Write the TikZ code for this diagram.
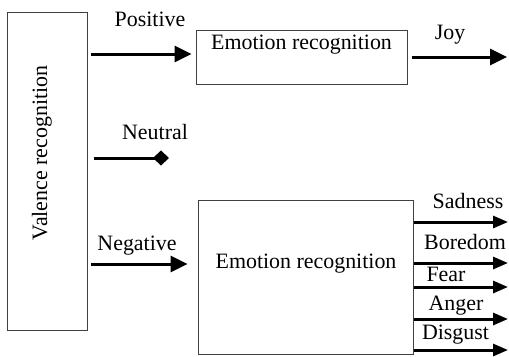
\documentclass[tikz,border=0pt]{standalone}
\usepackage{fontspec}
\setmainfont{Liberation Serif}
\usetikzlibrary{arrows.meta}

\tikzset{
  blk/.style={draw=black!75, line width=1bp, inner sep=0pt},
  lbl/.style={inner sep=0pt, font=\fontsize{22}{26}\selectfont},
  arr/.style={line width=3bp, -{Triangle[length=17bp,width=16bp]}},
  outarr/.style={line width=3bp, -{Triangle[length=15bp,width=12bp]}},
}

\begin{document}
\begin{tikzpicture}[x=1bp,y=-1bp]
\useasboundingbox (0,0) rectangle (509,356);
% blocks
\node[blk, minimum width=79bp, minimum height=318bp] (val) at (47.5,171) {};
\node[lbl, rotate=90] (valtxt) at (42,153) {Valence recognition};
\node[blk, minimum width=211bp, minimum height=54bp] (emoA) at (301.5,57) {};
\node[lbl] (emoAtxt) at (301.5,45) {Emotion recognition};
\node[blk, minimum width=215bp, minimum height=154bp] (emoB) at (305.5,277) {};
\node[lbl] (emoBtxt) at (306,264) {Emotion recognition};
% free ends
\coordinate (joy) at (507,57);
\coordinate (neu) at (169,158);
% valence outputs
\draw[arr] ([xshift=3bp,yshift=3bp]val.east |- emoA.west) -- ([xshift=-4bp,yshift=3bp]emoA.west);
\node[lbl] (postxt) at (150,19) {Positive};
\draw[line width=3bp, -{Diamond[length=16bp,width=15bp]}] ([xshift=6bp]val.east |- neu) -- (neu);
\node[lbl] (neutxt) at (155,132) {Neutral};
\draw[arr] ([xshift=3bp]val.east |- emoBtxt) -- ([xshift=-10bp]emoB.west |- emoBtxt);
\node[lbl] (negtxt) at (137,246) {Negative};
% emotions
\draw[arr] ([xshift=4bp]emoA.east) -- (joy);
\node[lbl] (joytxt) at (450,35) {Joy};
\foreach \y/\ly/\lx/\emo in {222/200.5/468/Sadness, 263/242/465/Boredom, 287/274/446/Fear, 319/306/456/Anger, 350/335/455.5/Disgust}{
  \coordinate (end\emo) at (508,\y);
  \draw[outarr] (emoB.east |- end\emo) -- (end\emo);
  \node[lbl] (txt\emo) at (\lx,\ly) {\emo};
}
\end{tikzpicture}
\end{document}
